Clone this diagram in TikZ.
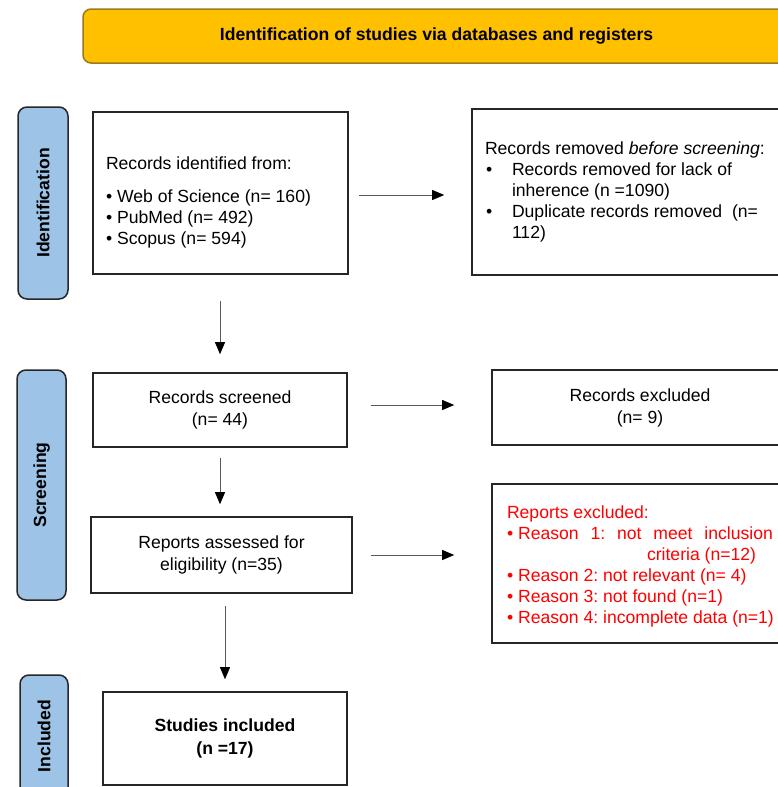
\documentclass[tikz,border=0pt]{standalone}
\usepackage{fontspec}
\setmainfont{Liberation Sans}
\usetikzlibrary{arrows.meta}
\definecolor{headfill}{HTML}{FFC000}
\definecolor{headline}{HTML}{9C7A1C}
\definecolor{phasefill}{HTML}{9DC3E6}
\definecolor{exclred}{HTML}{FF0000}
\frenchspacing

\begin{document}
\begin{tikzpicture}[x=1pt, y=-1pt,
  every node/.style={font=\fontsize{17.6}{21}\selectfont},
  box/.style={draw=black!85, line width=1.6pt, inner sep=0pt},
  phase/.style={draw=black!85, fill=phasefill, line width=1.5pt, rounded corners=9pt, rotate=90, font=\fontsize{17.6}{21}\selectfont\bfseries},
  arr/.style={draw=black!65, line width=0.9pt, -{Triangle[length=12pt,width=10pt,black]}}]
\useasboundingbox (0,0) rectangle (778,787) ;
\clip (0,0) rectangle (778,787) ;

\node[draw=headline, fill=headfill, line width=1.5pt, rounded corners=8pt, minimum width=707pt, minimum height=54pt, font=\fontsize{17.6}{21}\selectfont\bfseries] (head) at (436.5,36) {Identification of studies via databases and registers} ;

\node[phase, minimum width=192pt, minimum height=50pt] (idphase) at (43,203) {Identification} ;
\node[phase, minimum width=230pt, minimum height=49pt] (scrphase) at (41.5,485) {Screening} ;
\node[phase, minimum width=122pt, minimum height=48pt] (incphase) at (44,736) {Included} ;

\node[box, minimum width=255pt, minimum height=162pt] (ident) at (220.5,193) {} ;
\node[text width=229pt, align=flush left] (identtext) at ([yshift=-9pt]ident.center) {Records identified from:\\[12pt]
• Web of Science (n= 160)\\
• PubMed (n= 492)\\
• Scopus (n= 594)} ;

\node[box, minimum width=318pt, minimum height=166pt, text width=292pt, align=flush left] (remov) at (631,192) {Records removed \textit{before screening}:\\
\makebox[27pt][l]{\hspace{1pt}•}Records removed for lack of\\
\hspace*{27pt}inherence (n =1090)\\
\makebox[27pt][l]{\hspace{1pt}•}Duplicate records removed\ \ (n=\\
\hspace*{27pt}112)} ;

\node[box, minimum width=254pt, minimum height=74pt, align=flush center] (screened) at (220,410) {Records screened\\[1pt](n= 44)} ;
\node[box, minimum width=296pt, minimum height=75pt, align=flush center] (excl) at (640,407.5) {Records excluded\\[1pt](n= 9)} ;

\node[box, minimum width=261pt, minimum height=76pt, align=flush center] (assessed) at (221.5,555) {Reports assessed for\\[1pt]eligibility (n=35)} ;
\node[box, minimum width=298pt, minimum height=159pt] (repexcl) at (641,563.5) {} ;
\node[text width=268pt, align=flush left, text=exclred] (repexcltext) at ([yshift=-3pt]repexcl.center) {Reports excluded:\\
\makebox[266pt][s]{•\hspace{0.278em}Reason\ \hfill 1:\ \hfill not\ \hfill meet\ \hfill inclusion}\\
\hspace*{140pt}criteria (n=12)\\
•\hspace{0.278em}Reason 2: not relevant (n= 4)\\
•\hspace{0.278em}Reason 3: not found (n=1)\\
•\hspace{0.278em}Reason 4: incomplete data (n=1)} ;

\node[box, minimum width=244pt, minimum height=93pt, align=flush center, font=\fontsize{17.6}{21}\selectfont\bfseries] (studies) at (225,738.5) {Studies included\\[2pt](n =17)} ;

\draw[arr, shorten <=10pt, shorten >=27pt] ([yshift=-2pt]ident.east) -- ([yshift=-2pt]ident.east -| remov.west) ;
\draw[arr, shorten <=26pt, shorten >=18pt] (ident.south -| screened.north) -- (screened.north) ;
\draw[arr, shorten <=23pt, shorten >=37pt] ([yshift=5pt]screened.east) -- ([yshift=5pt]screened.east -| excl.west) ;
\draw[arr, shorten <=10pt, shorten >=12pt] (screened.south) -- (screened.south |- assessed.north) ;
\draw[arr, shorten <=18pt, shorten >=37pt] (assessed.east) -- (assessed.east -| repexcl.west) ;
\draw[arr, shorten <=12pt, shorten >=12pt] (assessed.south -| studies.north) -- (studies.north) ;
\end{tikzpicture}
\end{document}
